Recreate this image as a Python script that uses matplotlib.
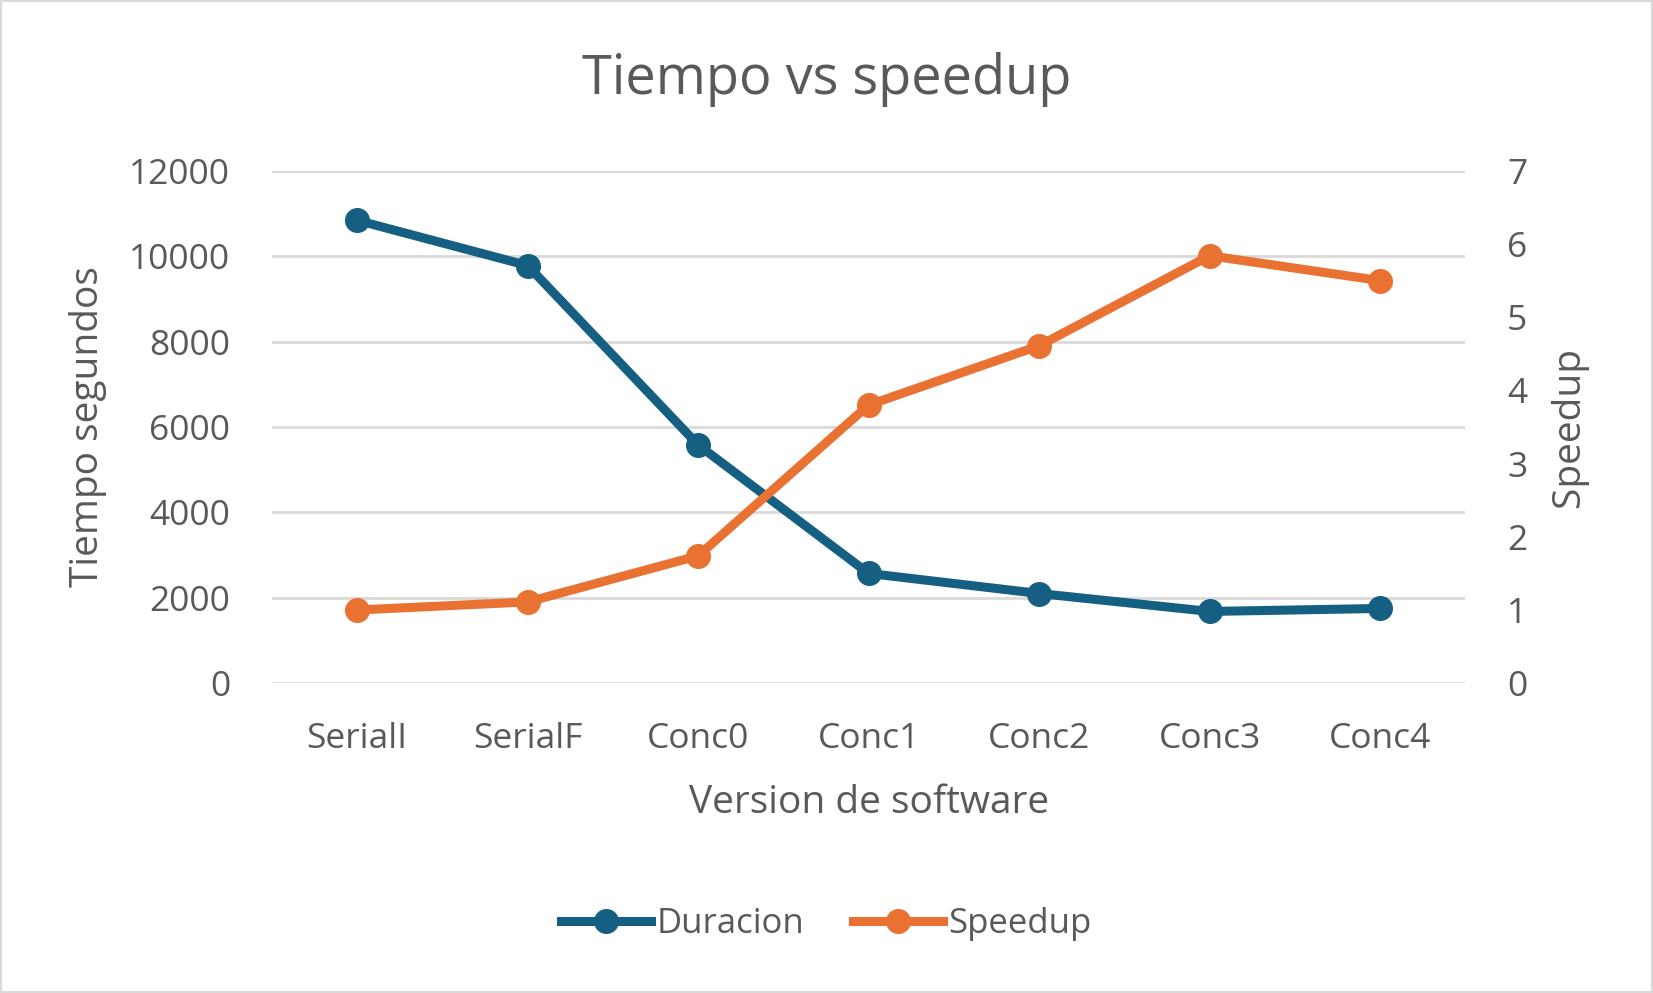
import matplotlib
matplotlib.use('Agg')
import matplotlib.pyplot as plt

plt.rcParams['font.family'] = ['Open Sans', 'DejaVu Sans']

# data
versiones = ['SerialI', 'SerialF', 'Conc0', 'Conc1', 'Conc2', 'Conc3', 'Conc4']
duracion = [10840, 9780, 5580, 2570, 2100, 1680, 1750]
speedup = [1.0, 1.11, 1.74, 3.80, 4.61, 5.84, 5.50]

azul = '#156082'
naranja = '#E97132'
gris = '#595959'
rejilla = '#D9D9D9'

fig = plt.figure(figsize=(16.53, 9.93), dpi=100)
ax = fig.add_axes([0.1645, 0.312, 0.722, 0.516])
ax2 = ax.twinx()

x = list(range(len(versiones)))
l1, = ax.plot(x, duracion, '-o', color=azul, lw=6.5, ms=17, label='Duracion')
l2, = ax2.plot(x, speedup, '-o', color=naranja, lw=6.5, ms=17, label='Speedup')

ax.set_ylim(0, 12000)
ax.set_yticks(range(0, 12001, 2000))
ax2.set_ylim(0, 7)
ax2.set_yticks(range(0, 8))
ax.set_xlim(-0.5, len(versiones) - 0.5)
ax.set_xticks(x)
ax.set_xticklabels(versiones)

ax.yaxis.grid(True, color=rejilla, lw=2)
ax.set_axisbelow(True)
for a in (ax, ax2):
    for s in a.spines.values():
        s.set_visible(False)
    a.tick_params(length=0, colors=gris, labelsize=25.5)
ax.tick_params(axis='x', pad=28)
ax.tick_params(axis='y', pad=30)
ax2.tick_params(axis='y', pad=30)

ax.set_xlabel('Version de software', color=gris, fontsize=28, labelpad=20)
ax.set_ylabel('Tiempo segundos', color=gris, fontsize=28, labelpad=16)
ax2.set_ylabel('Speedup', color=gris, fontsize=28, labelpad=16)

fig.suptitle('Tiempo vs speedup', color=gris, fontsize=39, y=0.948)

fig.legend(handles=[l1, l2], loc='center', bbox_to_anchor=(0.5, 0.069),
           ncol=2, frameon=False, fontsize=25, labelcolor=gris,
           handlelength=2.6, handletextpad=0.15, columnspacing=1.4)

fig.patches.append(matplotlib.patches.Rectangle((0, 0), 1, 1, transform=fig.transFigure,
                   fill=False, edgecolor='#D9D9D9', lw=3))

fig.savefig('out.png', dpi=100)
